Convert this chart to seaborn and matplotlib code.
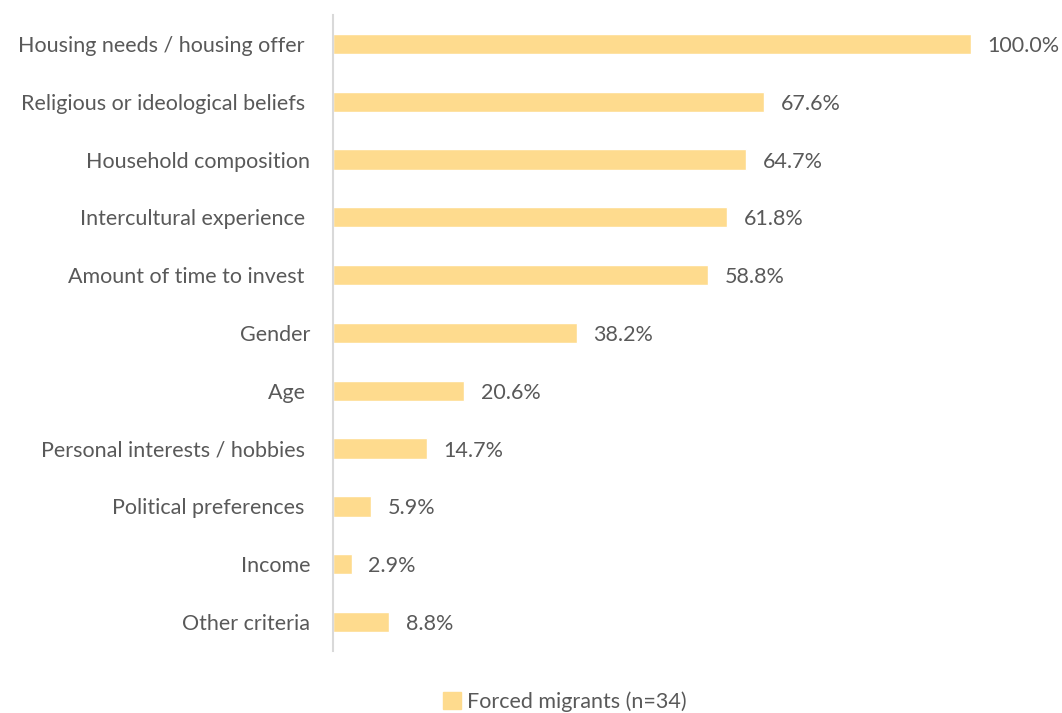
import matplotlib
matplotlib.use("Agg")
import matplotlib.pyplot as plt
import matplotlib.patches as mpatches
import pandas as pd
import seaborn as sns

criteria = [
    "Housing needs / housing offer ",
    "Religious or ideological beliefs ",
    "Household composition",
    "Intercultural experience ",
    "Amount of time to invest ",
    "Gender",
    "Age ",
    "Personal interests / hobbies ",
    "Political preferences ",
    "Income",
    "Other criteria",
]
shares = [100.0, 67.6, 64.7, 61.8, 58.8, 38.2, 20.6, 14.7, 5.9, 2.9, 8.8]
series_name = "Forced migrants (n=34)"

bar_color = "#FEDB8E"
text_color = "#595959"

sns.set_theme(style="white")
plt.rcParams["font.family"] = ["Lato", "DejaVu Sans"]

df = pd.DataFrame({"criterion": criteria, "share": shares})

fig = plt.figure(figsize=(10.62, 7.13), dpi=100)
ax = fig.add_axes([0.3136, 0.087, 0.6008, 0.892])

sns.barplot(data=df, y="criterion", x="share", orient="h", color=bar_color,
            width=0.35, saturation=1, ax=ax)

ax.set_xlim(0, 100)
ax.set_ylim(len(criteria) - 0.5, -0.5)
ax.set_xlabel("")
ax.set_ylabel("")
ax.set_xticks([])
ax.tick_params(axis="y", length=0, pad=16.5, labelsize=15.5, labelcolor=text_color)

for s in ["top", "right", "bottom"]:
    ax.spines[s].set_visible(False)
ax.spines["left"].set_color("#D9D9D9")
ax.spines["left"].set_linewidth(1.5)

for i, v in enumerate(shares):
    ax.annotate(f"{v:.1f}%", xy=(v, i), xytext=(12, 0), textcoords="offset points",
                va="center_baseline", ha="left", fontsize=15.5, color=text_color,
                annotation_clip=False)

handle = mpatches.Patch(color=bar_color, label=series_name)
fig.legend(handles=[handle], loc="center", bbox_to_anchor=(0.532, 0.016),
           frameon=False, fontsize=15.5, labelcolor=text_color,
           handlelength=0.8, handleheight=0.8, handletextpad=0.3)

fig.savefig("out.png", dpi=100)
